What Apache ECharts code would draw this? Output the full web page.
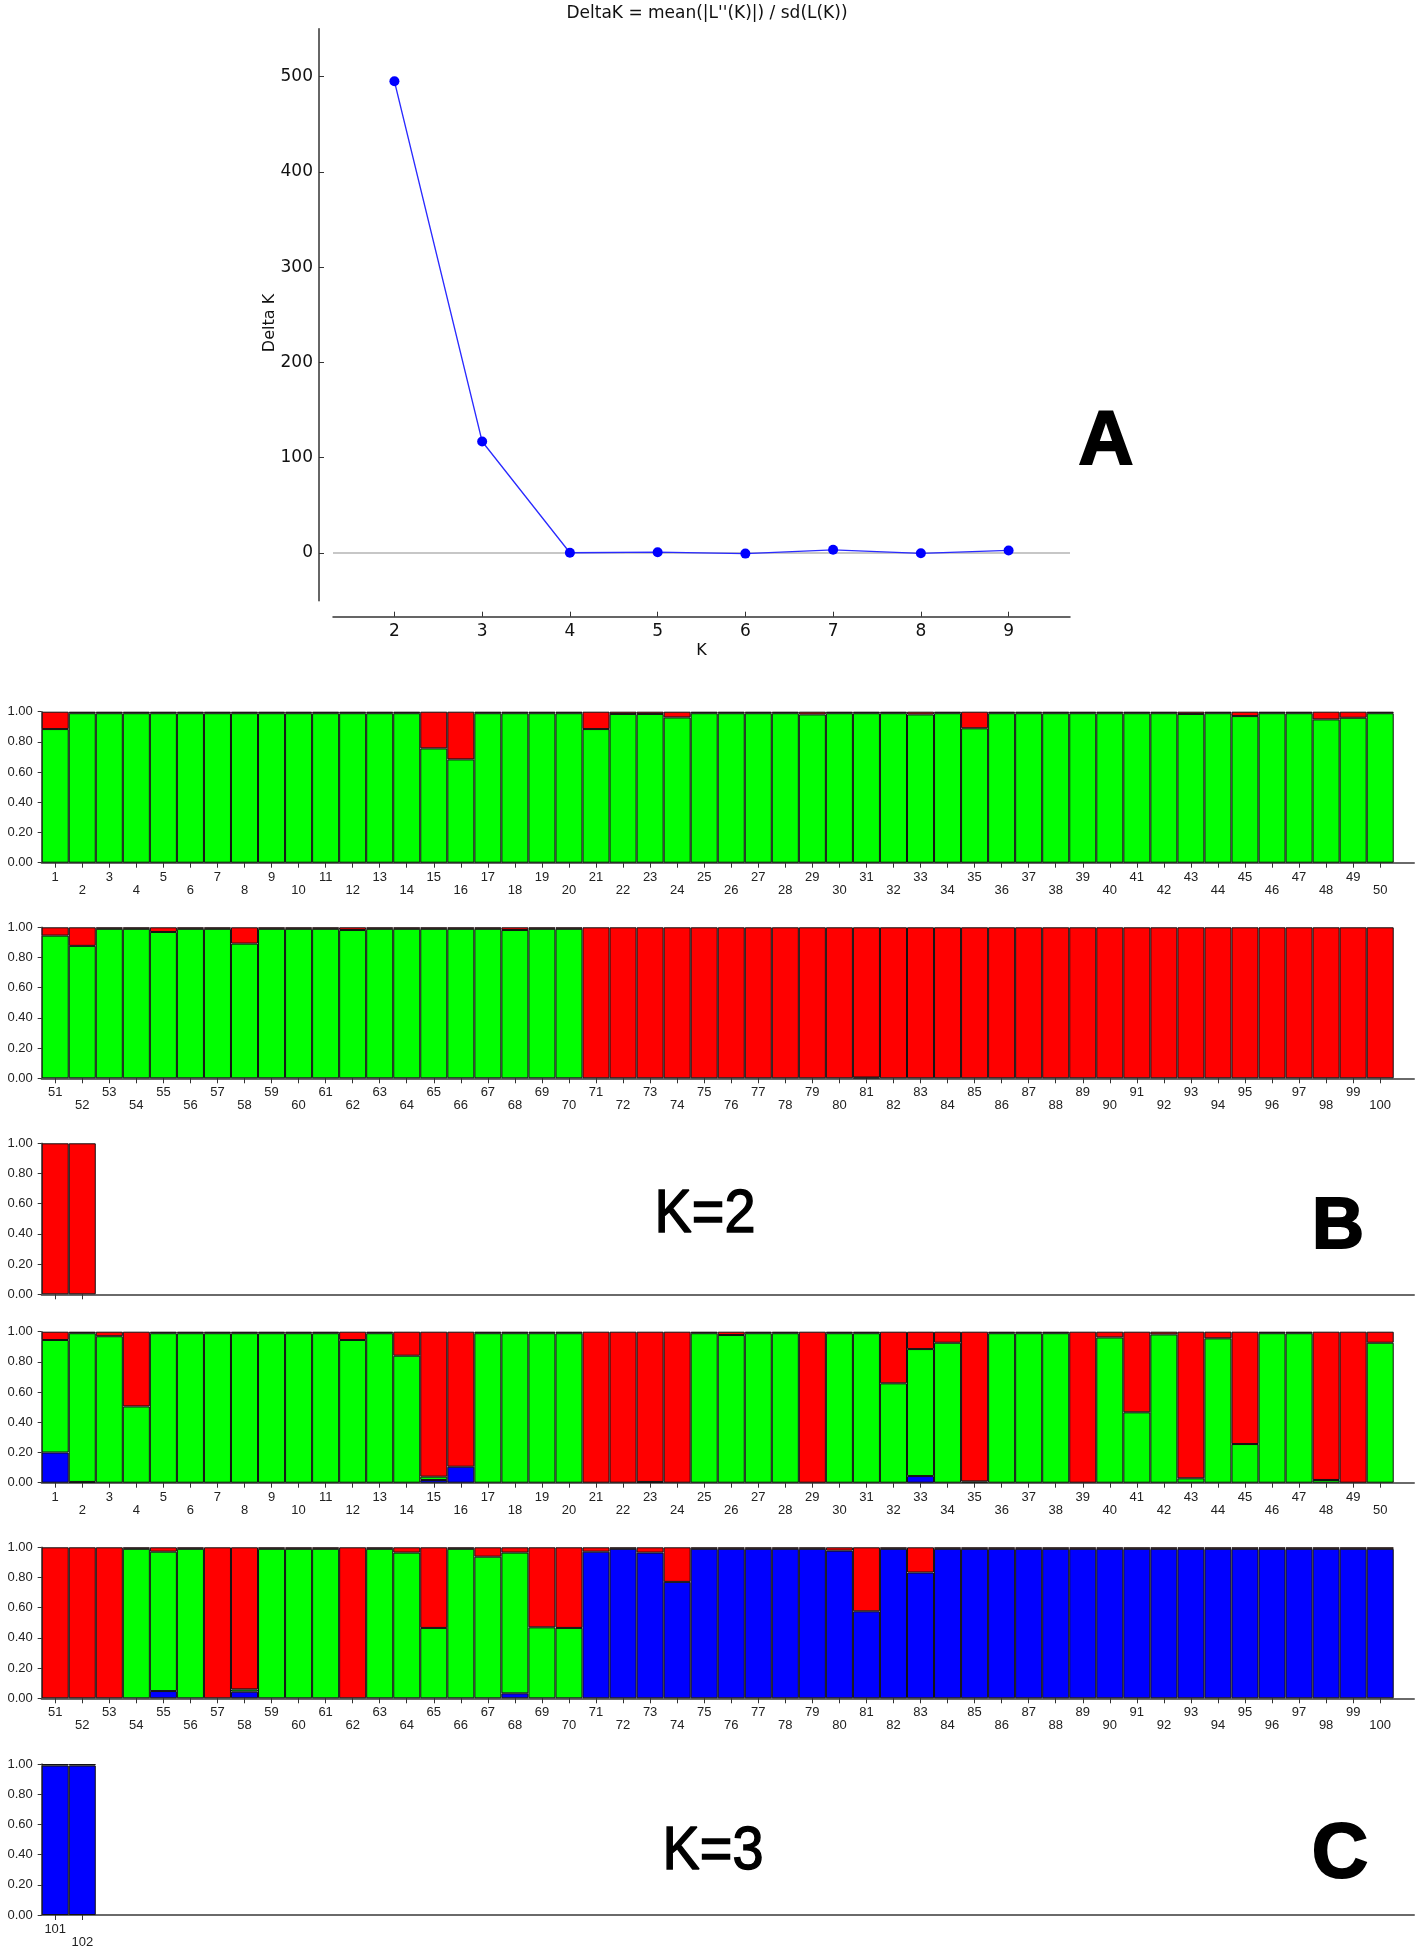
<!DOCTYPE html>
<html><head><meta charset="utf-8">
<script src="https://cdn.jsdelivr.net/npm/echarts@6/dist/echarts.min.js"></script>
<style>html,body{margin:0;padding:0;background:#fff}#c{width:1418px;height:1949px}</style>
</head><body><div id="c"></div>
<script>
// ---- Panel A: Evanno DeltaK ----
const kValues = [2, 3, 4, 5, 6, 7, 8, 9];
const deltaK = [495, 117, 0.3, 0.9, -0.6, 3.4, -0.3, 2.7];
const deltaKTicks = [0, 100, 200, 300, 400, 500];

// ---- Individuals ----
const ids1 = [1,2,3,4,5,6,7,8,9,10,11,12,13,14,15,16,17,18,19,20,21,22,23,24,25,26,27,28,29,30,31,32,33,34,35,36,37,38,39,40,41,42,43,44,45,46,47,48,49,50];
const ids2 = [51,52,53,54,55,56,57,58,59,60,61,62,63,64,65,66,67,68,69,70,71,72,73,74,75,76,77,78,79,80,81,82,83,84,85,86,87,88,89,90,91,92,93,94,95,96,97,98,99,100];
const ids3 = [101,102];

// ---- K=2 memberships (green, red) ----
const k2Green1 = [0.885,0.99,0.99,0.99,0.99,0.99,0.99,0.99,0.99,0.99, 0.99,0.99,0.99,0.99,0.757,0.684,0.99,0.99,0.99,0.99, 0.885,0.985,0.985,0.962,0.99,0.99,0.99,0.99,0.982,0.99, 0.99,0.99,0.982,0.99,0.89,0.99,0.99,0.99,0.99,0.99, 0.99,0.99,0.985,0.99,0.971,0.99,0.99,0.949,0.96,0.99];
const k2Red1   = [0.115,0.01,0.01,0.01,0.01,0.01,0.01,0.01,0.01,0.01, 0.01,0.01,0.01,0.01,0.243,0.316,0.01,0.01,0.01,0.01, 0.115,0.015,0.015,0.038,0.01,0.01,0.01,0.01,0.018,0.01, 0.01,0.01,0.018,0.01,0.11,0.01,0.01,0.01,0.01,0.01, 0.01,0.01,0.015,0.01,0.029,0.01,0.01,0.051,0.04,0.01];
const k2Green2 = [0.945,0.877,0.99,0.99,0.969,0.99,0.99,0.892,0.99,0.99, 0.99,0.982,0.99,0.99,0.99,0.99,0.99,0.982,0.99,0.99, 0,0,0,0,0,0,0,0,0,0, 0.005,0,0,0,0,0,0,0,0,0, 0,0,0,0,0,0,0,0,0,0];
const k2Red2   = [0.055,0.123,0.01,0.01,0.031,0.01,0.01,0.108,0.01,0.01, 0.01,0.018,0.01,0.01,0.01,0.01,0.01,0.018,0.01,0.01, 1,1,1,1,1,1,1,1,1,1, 0.995,1,1,1,1,1,1,1,1,1, 1,1,1,1,1,1,1,1,1,1];
const k2Green3 = [0, 0];
const k2Red3   = [1, 1];

// ---- K=3 memberships (blue, green, red) ----
const k3Blue1  = [0.20,0.005,0,0,0,0,0,0,0,0, 0,0,0,0,0.018,0.106,0,0,0,0, 0,0,0,0,0,0,0,0,0,0, 0,0,0.044,0,0,0,0,0,0,0, 0,0,0,0,0,0,0,0,0,0];
const k3Green1 = [0.745,0.985,0.97,0.505,0.99,0.99,0.99,0.99,0.99,0.99, 0.99,0.945,0.99,0.841,0.022,0,0.99,0.99,0.99,0.99, 0,0,0.005,0,0.99,0.978,0.99,0.99,0,0.99, 0.99,0.658,0.841,0.927,0.008,0.99,0.99,0.99,0,0.962, 0.466,0.982,0.029,0.956,0.256,0.99,0.99,0.018,0,0.927];
const k3Red1   = [0.055,0.01,0.03,0.495,0.01,0.01,0.01,0.01,0.01,0.01, 0.01,0.055,0.01,0.159,0.96,0.894,0.01,0.01,0.01,0.01, 1,1,0.995,1,0.01,0.022,0.01,0.01,1,0.01, 0.01,0.342,0.115,0.073,0.992,0.01,0.01,0.01,1,0.038, 0.534,0.018,0.971,0.044,0.744,0.01,0.01,0.982,1,0.073];
const k3Blue2  = [0,0,0,0,0.048,0,0,0.044,0,0, 0,0,0,0,0,0,0,0.033,0,0, 0.971,0.99,0.965,0.771,0.99,0.99,0.99,0.99,0.99,0.978, 0.576,0.99,0.833,0.99,0.99,0.99,0.99,0.99,0.99,0.99, 0.99,0.99,0.99,0.99,0.99,0.99,0.99,0.99,0.99,0.99];
const k3Green2 = [0,0,0,0.99,0.923,0.99,0,0.015,0.99,0.99, 0.99,0,0.99,0.965,0.466,0.99,0.938,0.932,0.47,0.466, 0,0,0,0,0,0,0,0,0,0, 0,0,0,0,0,0,0,0,0,0, 0,0,0,0,0,0,0,0,0,0];
const k3Red2   = [1,1,1,0.01,0.029,0.01,1,0.941,0.01,0.01, 0.01,1,0.01,0.035,0.534,0.01,0.062,0.035,0.53,0.534, 0.029,0.01,0.035,0.229,0.01,0.01,0.01,0.01,0.01,0.022, 0.424,0.01,0.167,0.01,0.01,0.01,0.01,0.01,0.01,0.01, 0.01,0.01,0.01,0.01,0.01,0.01,0.01,0.01,0.01,0.01];
const k3Blue3  = [0.99, 0.99];
const k3Red3   = [0.01, 0.01];

const GREEN = '#00ff00', RED = '#ff0000', BLUE = '#0000ff';
const tickFont = "'Liberation Sans Narrow','Liberation Sans',Arial,sans-serif";
const dejavu = "'DejaVu Sans',sans-serif";

const panels = [
  {top: 711.7, ids: ids1, labels: true,  layers: [[k2Green1, GREEN], [k2Red1, RED]]},
  {top: 927.3, ids: ids2, labels: true,  layers: [[k2Green2, GREEN], [k2Red2, RED]]},
  {top: 1143.3, ids: ids3, labels: false, layers: [[k2Green3, GREEN], [k2Red3, RED]]},
  {top: 1331.7, ids: ids1, labels: true,  layers: [[k3Blue1, BLUE], [k3Green1, GREEN], [k3Red1, RED]]},
  {top: 1547.3, ids: ids2, labels: true,  layers: [[k3Blue2, BLUE], [k3Green2, GREEN], [k3Red2, RED]]},
  {top: 1764, ids: ids3, labels: true,  layers: [[k3Blue3, BLUE], [k3Red3, RED]]}
];

const grid = [{left: 333, top: 28.8, width: 737, height: 571.9}];
const xAxis = [{
  gridIndex: 0, type: 'value', min: 1.3, max: 9.7, offset: 16,
  axisLine: {show: true, onZero: false, lineStyle: {color: '#333', width: 1.5}},
  axisTick: {show: true, inside: true, length: 5, customValues: kValues, lineStyle: {color: '#333'}},
  axisLabel: {customValues: kValues, fontSize: 17, color: '#111', margin: 6, fontFamily: dejavu},
  splitLine: {show: false},
  name: 'K', nameLocation: 'middle', nameGap: 26,
  nameTextStyle: {fontSize: 16, color: '#111', fontFamily: dejavu}
}];
const yAxis = [{
  gridIndex: 0, type: 'value', min: -50, max: 550, offset: 14,
  axisLine: {show: true, onZero: false, lineStyle: {color: '#333', width: 1.5}},
  axisTick: {show: true, inside: true, length: 5, customValues: deltaKTicks, lineStyle: {color: '#333'}},
  axisLabel: {customValues: deltaKTicks, fontSize: 17, color: '#111', margin: 6, fontFamily: dejavu},
  splitLine: {show: false}
}];
const series = [{
  type: 'line', xAxisIndex: 0, yAxisIndex: 0,
  data: kValues.map((k, i) => [k, deltaK[i]]),
  symbol: 'circle', symbolSize: 10,
  itemStyle: {color: '#0000ff'},
  lineStyle: {color: '#2a2aff', width: 1.3},
  markLine: {
    silent: true, symbol: 'none', label: {show: false},
    lineStyle: {color: '#b4b4b4', width: 1.5, type: 'solid'},
    data: [{yAxis: 0}]
  },
  z: 5
}];

panels.forEach((p, pi) => {
  const gi = pi + 1;
  const start = p.ids[0];
  grid.push({left: 41.7, top: p.top, width: 1372.3, height: 151});
  xAxis.push({
    gridIndex: gi, type: 'value', min: start - 0.5, max: start - 0.5 + 50.75,
    axisLine: {show: true, onZero: false, lineStyle: {color: '#6a6a6a', width: 2}},
    axisTick: {show: true, length: 5, customValues: p.ids, lineStyle: {color: '#333'}},
    axisLabel: {
      show: p.labels, customValues: p.ids, fontSize: 13, lineHeight: 13, color: '#222',
      margin: 8, fontFamily: tickFont,
      formatter: v => (v % 2 === 1 ? String(v) : '\n' + v)
    },
    splitLine: {show: false}
  });
  yAxis.push({
    gridIndex: gi, type: 'value', min: 0, max: 1, interval: 0.2,
    axisLine: {show: true, onZero: false, lineStyle: {color: '#555', width: 1.5}},
    axisTick: {show: true, length: 4, lineStyle: {color: '#333'}},
    axisLabel: {fontSize: 13, color: '#222', margin: 9, fontFamily: tickFont, formatter: v => v.toFixed(2)},
    splitLine: {show: false}
  });
  p.layers.forEach(([vals, col]) => {
    series.push({
      type: 'bar', xAxisIndex: gi, yAxisIndex: gi, stack: 'p' + gi,
      barWidth: '100%',
      // value first so that the value dimension is the stacked one
      encode: {x: 1, y: 0},
      data: p.ids.map((id, i) => [vals[i] > 0 ? vals[i] : '-', id]),
      itemStyle: {color: col, borderColor: '#111', borderWidth: 1},
      emphasis: {disabled: true},
      silent: true
    });
  });
});

const chart = echarts.init(document.getElementById('c'), null, {renderer: 'canvas'});
chart.setOption({
  animation: false,
  backgroundColor: '#ffffff',
  title: {
    text: "DeltaK = mean(|L''(K)|) / sd(L(K))",
    left: 702, top: 0, textAlign: 'center',
    textStyle: {fontSize: 17, fontWeight: 'normal', color: '#111', fontFamily: dejavu}
  },
  grid, xAxis, yAxis, series,
  graphic: [
    {type: 'text', x: 270, y: 323, rotation: Math.PI / 2, style: {text: 'Delta K', font: "16px 'DejaVu Sans',sans-serif", fill: '#111', textAlign: 'center', textVerticalAlign: 'middle'}},
    {type: 'text', x: 1106, y: 443, style: {text: 'A', font: "900 76px 'Liberation Sans',Arial,sans-serif", fill: '#000', stroke: '#000', lineWidth: 2, textAlign: 'center', textVerticalAlign: 'middle'}},
    {type: 'text', x: 705, y: 1215, scaleX: 0.9, style: {text: 'K=2', font: "62px 'Liberation Sans Narrow','Liberation Sans',Arial,sans-serif", fill: '#000', stroke: '#000', lineWidth: 1.5, textAlign: 'center', textVerticalAlign: 'middle'}},
    {type: 'text', x: 1338, y: 1228, style: {text: 'B', font: "900 72px 'Liberation Sans',Arial,sans-serif", fill: '#000', stroke: '#000', lineWidth: 2, textAlign: 'center', textVerticalAlign: 'middle'}},
    {type: 'text', x: 713, y: 1852, scaleX: 0.9, style: {text: 'K=3', font: "62px 'Liberation Sans Narrow','Liberation Sans',Arial,sans-serif", fill: '#000', stroke: '#000', lineWidth: 1.5, textAlign: 'center', textVerticalAlign: 'middle'}},
    {type: 'text', x: 1340, y: 1855, style: {text: 'C', font: "900 78px 'Liberation Sans',Arial,sans-serif", fill: '#000', stroke: '#000', lineWidth: 2, textAlign: 'center', textVerticalAlign: 'middle'}}
  ]
});
</script></body></html>
